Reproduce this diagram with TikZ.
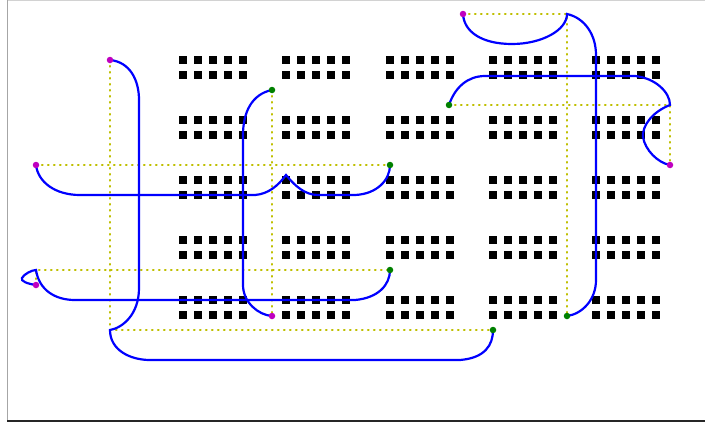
\documentclass[tikz,border=0pt]{standalone}
\usetikzlibrary{backgrounds}
\definecolor{wireblue}{RGB}{0,0,255}
\definecolor{guideyel}{RGB}{191,191,0}
\definecolor{endmag}{RGB}{191,0,191}
\definecolor{endgrn}{RGB}{0,128,0}
\tikzset{
  magpt/.style={circle,fill=endmag,inner sep=0pt,minimum size=6.5pt},
  grnpt/.style={circle,fill=endgrn,inner sep=0pt,minimum size=6.5pt},
  guide/.style={draw=guideyel,line width=2.4pt,line cap=round,dash pattern=on 0.6pt off 5.4pt},
  wire/.style={draw=wireblue,line width=2.2pt},
  pad/.style={fill=black}
}

\begin{document}
\begin{tikzpicture}[x=1pt,y=-1pt]
\useasboundingbox (0,0) rectangle (705,423);
% frame
\draw[gray!35] (7,0.5) -- (705,0.5);
\draw[gray!70] (7,0) -- (7,421);
\draw[black!85,line width=1.2pt] (7,421) -- (705,421);

% end points of the nets
\node[magpt] (a1) at (110,60) {};
\node[grnpt] (b1) at (493,330) {};
\node[magpt] (a2) at (36,165) {};
\node[grnpt] (b2) at (390,165) {};
\node[grnpt] (b3) at (272,90) {};
\node[magpt] (a3) at (272,316) {};
\node[magpt] (a4) at (36,285) {};
\node[grnpt] (b4) at (390,270) {};
\node[magpt] (a5) at (463,14) {};
\node[grnpt] (b5) at (567,316) {};
\node[grnpt] (b6) at (449,105) {};
\node[magpt] (a6) at (670,165) {};

\begin{scope}[on background layer]
% pad array
\foreach \bx in {0,...,4}
  \foreach \by in {0,...,4}
    \foreach \i in {0,...,4}
      \foreach \j in {0,1}
        \fill[pad] ({179+103.25*\bx+15*\i},{56+60*\by+15*\j}) rectangle ++(8,8);

% manhattan guides
\draw[guide] (a1.center) |- (b1.center);
\draw[guide] (a2.center) -- (b2.center);
\draw[guide] (b3.center) -- (a3.center);
\draw[guide] (a4.center) |- (b4.center);
\draw[guide] (a5.center) -| (b5.center);
\draw[guide] (b6.center) -| (a6.center);

% routed wires
\draw[wire] (a1.center) .. controls (130,62) and (139,80) .. (139,100) -- (139,288)
  .. controls (139,315) and (122,328) .. (a1 |- b1)
  .. controls (110,350) and (130,360) .. (150,360) -- (460,360)
  .. controls (485,358) and (493,345) .. (b1.center);
\draw[wire] (a2.center) .. controls (38,182) and (55,195) .. (80,195) -- (255,195)
  .. controls (268,194) and (278,186) .. (286,175)
  .. controls (295,186) and (305,195) .. (318,195) -- (355,195)
  .. controls (377,194) and (390,180) .. (b2.center);
\draw[wire] (b3.center) .. controls (252,94) and (243,112) .. (243,135) -- (243,285)
  .. controls (243,302) and (258,315) .. (a3.center);
\draw[wire] (a4.center) .. controls (28,284) and (20,281) .. (22,278)
  .. controls (24,274) and (32,270) .. (a4 |- b4)
  .. controls (39,290) and (55,300) .. (75,300) -- (355,300)
  .. controls (378,298) and (390,285) .. (b4.center);
\draw[wire] (a5.center) .. controls (464,32) and (482,44) .. (512,44)
  .. controls (542,44) and (567,30) .. (b5 |- a5)
  .. controls (585,18) and (596,35) .. (596,55) -- (596,280)
  .. controls (596,300) and (582,314) .. (b5.center);
\draw[wire] (b6.center) .. controls (455,87) and (468,76) .. (485,76) -- (635,76)
  .. controls (655,78) and (670,92) .. (a6 |- b6)
  .. controls (652,112) and (642,126) .. (643,137)
  .. controls (645,150) and (658,163) .. (a6.center);
\end{scope}
\end{tikzpicture}
\end{document}
